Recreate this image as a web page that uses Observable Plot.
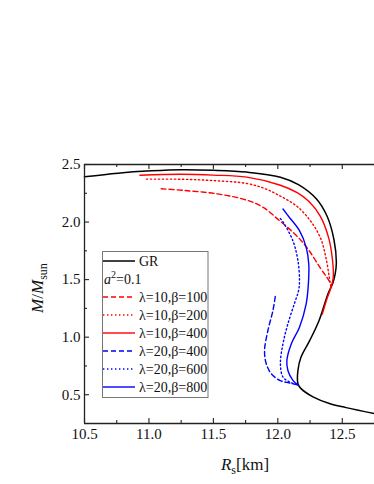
<!DOCTYPE html>
<html><head><meta charset="utf-8">
<script src="https://cdn.jsdelivr.net/npm/d3@7"></script>
<script src="https://cdn.jsdelivr.net/npm/@observablehq/plot@0.6"></script>
<style>body{margin:0;background:#fff;} svg{display:block;}</style>
</head><body><div id="chart"></div>
<script>
// ---- tick values ----
const xTicks = [10.5, 11.0, 11.5, 12.0, 12.5];
const xMinor = [10.75, 11.25, 11.75, 12.25, 12.75];
const yTicks = [0.5, 1.0, 1.5, 2.0, 2.5];
const yMinor = [0.75, 1.25, 1.75, 2.25];
const xDomain = [10.5, 12.75];
const yDomain = [0.25, 2.5];

// ---- series (R_s [km], M/M_sun) ----
const seriesNames = ["GR", "λ=10,β=100", "λ=10,β=200", "λ=10,β=400", "λ=20,β=400", "λ=20,β=600", "λ=20,β=800"];
const seriesColors = ["#000000", "#ff0000", "#ff0000", "#ff0000", "#0000ff", "#0000ff", "#0000ff"];
const seriesStyle = ["solid", "dashed", "dotted", "solid", "dashed", "dotted", "solid"];

const grR = [10.5, 10.76, 11.02, 11.25, 11.5, 11.76, 12.02, 12.16, 12.3, 12.384, 12.436, 12.454, 12.445, 12.425, 12.39, 12.32, 12.247, 12.18, 12.156, 12.156, 12.18, 12.273, 12.4, 12.53, 12.75];
const grM = [2.393, 2.425, 2.445, 2.455, 2.45, 2.434, 2.39, 2.325, 2.2, 2.046, 1.844, 1.65, 1.55, 1.465, 1.38, 1.145, 0.97, 0.827, 0.711, 0.596, 0.553, 0.481, 0.423, 0.388, 0.336];

const r100R = [11.095, 11.28, 11.53, 11.76, 11.89, 12.01, 12.1, 12.18, 12.25, 12.33, 12.38, 12.415];
const r100M = [2.289, 2.274, 2.245, 2.19, 2.125, 2.015, 1.93, 1.84, 1.74, 1.6, 1.52, 1.455];

const r200R = [10.98, 11.25, 11.5, 11.76, 11.9, 12.02, 12.15, 12.26, 12.335, 12.375, 12.398, 12.41];
const r200M = [2.373, 2.372, 2.36, 2.335, 2.29, 2.225, 2.135, 2.0, 1.85, 1.68, 1.53, 1.445];

const r400R = [10.93, 11.25, 11.5, 11.76, 12.02, 12.15, 12.24, 12.33, 12.395, 12.425, 12.43, 12.415, 12.38, 12.345];
const r400M = [2.407, 2.415, 2.408, 2.39, 2.32, 2.255, 2.18, 2.05, 1.86, 1.66, 1.52, 1.44, 1.33, 1.2];

const b400R = [11.98, 11.962, 11.923, 11.897, 11.91, 11.949, 12.014, 12.09, 12.156];
const b400M = [1.353, 1.231, 1.058, 0.885, 0.769, 0.683, 0.625, 0.602, 0.585];

const b600R = [12.02, 12.05, 12.117, 12.156, 12.168, 12.16, 12.128, 12.078, 12.04, 12.02, 12.04, 12.09, 12.156];
const b600M = [2.03, 1.983, 1.838, 1.665, 1.491, 1.4, 1.29, 1.116, 0.943, 0.769, 0.654, 0.611, 0.585];

const b800R = [12.04, 12.09, 12.168, 12.22, 12.24, 12.237, 12.22, 12.168, 12.105, 12.07, 12.078, 12.117, 12.156];
const b800M = [2.113, 2.04, 1.925, 1.78, 1.636, 1.463, 1.29, 1.087, 0.943, 0.798, 0.711, 0.625, 0.585];

const seriesR = [grR, r100R, r200R, r400R, b400R, b600R, b800R];
const seriesM = [grM, r100M, r200M, r400M, b400M, b600M, b800M];

// ---- layout ----
const W = 374, H = 484;
const mL = 84, mR = 0, mT = 164, mB = 61;
const font = "Liberation Serif, Times New Roman, serif";
const dashOf = s => s === "dashed" ? "5,3" : s === "dotted" ? "1.4,2.6" : null;

const pxX = (xDomain[1] - xDomain[0]) / (W - mL - mR);
const pxY = (yDomain[1] - yDomain[0]) / (H - mT - mB);
const maj = 5, mnr = 3;

const lineMarks = seriesNames.map((name, i) => {
  const pts = seriesR[i].map((r, j) => ({R: r, M: seriesM[i][j]}));
  return Plot.line(pts, {
    x: "R", y: "M", stroke: seriesColors[i],
    strokeWidth: i === 0 ? 1.5 : 1.4,
    strokeDasharray: dashOf(seriesStyle[i]),
    curve: "catmull-rom"
  });
});

const tickStyle = {stroke: "#222", strokeWidth: 1.1};
const chart = Plot.plot({
  width: W, height: H,
  marginLeft: mL, marginRight: mR, marginTop: mT, marginBottom: mB,
  style: {fontFamily: font, fontSize: "15px", color: "#111", background: "#fff"},
  x: {domain: xDomain, ticks: xTicks, tickFormat: d3.format(".1f"), tickSize: 0, tickPadding: 5, label: null},
  y: {domain: yDomain, ticks: yTicks, tickFormat: d3.format(".1f"), tickSize: 0, tickPadding: 4, label: null},
  marks: [
    ...lineMarks,
    // frame
    Plot.ruleY([yDomain[0], yDomain[1]], {stroke: "#222", strokeWidth: 1.3}),
    Plot.ruleX([xDomain[0]], {stroke: "#222", strokeWidth: 1.3}),
    // inward ticks, bottom & top
    Plot.ruleX(xTicks, {x: d => d, y1: () => yDomain[0], y2: () => yDomain[0] + maj * pxY, ...tickStyle}),
    Plot.ruleX(xMinor, {x: d => d, y1: () => yDomain[0], y2: () => yDomain[0] + mnr * pxY, ...tickStyle}),
    Plot.ruleX(xTicks, {x: d => d, y1: () => yDomain[1], y2: () => yDomain[1] - maj * pxY, ...tickStyle}),
    Plot.ruleX(xMinor, {x: d => d, y1: () => yDomain[1], y2: () => yDomain[1] - mnr * pxY, ...tickStyle}),
    // inward ticks, left
    Plot.ruleY(yTicks, {y: d => d, x1: () => xDomain[0], x2: () => xDomain[0] + maj * pxX, ...tickStyle}),
    Plot.ruleY(yMinor, {y: d => d, x1: () => xDomain[0], x2: () => xDomain[0] + mnr * pxX, ...tickStyle})
  ]
});

const svg = d3.select(chart);

// axis titles
const yt = svg.append("text")
  .attr("transform", "translate(43,288) rotate(-90)")
  .attr("text-anchor", "middle")
  .attr("font-family", font).attr("font-size", 17).attr("fill", "#111");
yt.append("tspan").attr("font-style", "italic").text("M");
yt.append("tspan").text("/");
yt.append("tspan").attr("font-style", "italic").text("M");
yt.append("tspan").attr("font-size", 12).attr("dy", 4).text("sun");

const xt = svg.append("text")
  .attr("x", 245).attr("y", 470)
  .attr("text-anchor", "middle")
  .attr("font-family", font).attr("font-size", 17).attr("fill", "#111");
xt.append("tspan").attr("font-style", "italic").text("R");
xt.append("tspan").attr("font-size", 12).attr("dy", 4).text("s");
xt.append("tspan").attr("dy", -4).text("[km]");

// legend
const lg = svg.append("g").attr("font-family", font).attr("font-size", 14)
  .attr("fill", "#111").attr("text-anchor", "start");
lg.append("rect").attr("x", 102.5).attr("y", 251.5).attr("width", 105.5).attr("height", 146)
  .attr("fill", "#fff").attr("stroke", "#777").attr("stroke-width", 1);
const rowY = [261, 297, 315, 333, 351, 369, 387];
seriesNames.forEach((name, i) => {
  lg.append("line").attr("x1", 103).attr("x2", 135).attr("y1", rowY[i]).attr("y2", rowY[i])
    .attr("stroke", seriesColors[i]).attr("stroke-width", i === 0 ? 1.5 : 1.4)
    .attr("stroke-dasharray", dashOf(seriesStyle[i]));
  lg.append("text").attr("x", 139).attr("y", rowY[i] + 5).attr("text-anchor", "start").text(name);
});
const at = lg.append("text").attr("x", 104).attr("y", 284).attr("text-anchor", "start");
at.append("tspan").attr("font-style", "italic").text("a");
at.append("tspan").attr("font-size", 10).attr("dy", -6).text("2");
at.append("tspan").attr("dy", 6).text("=0.1");

document.getElementById("chart").appendChild(chart);
</script>
</body></html>
